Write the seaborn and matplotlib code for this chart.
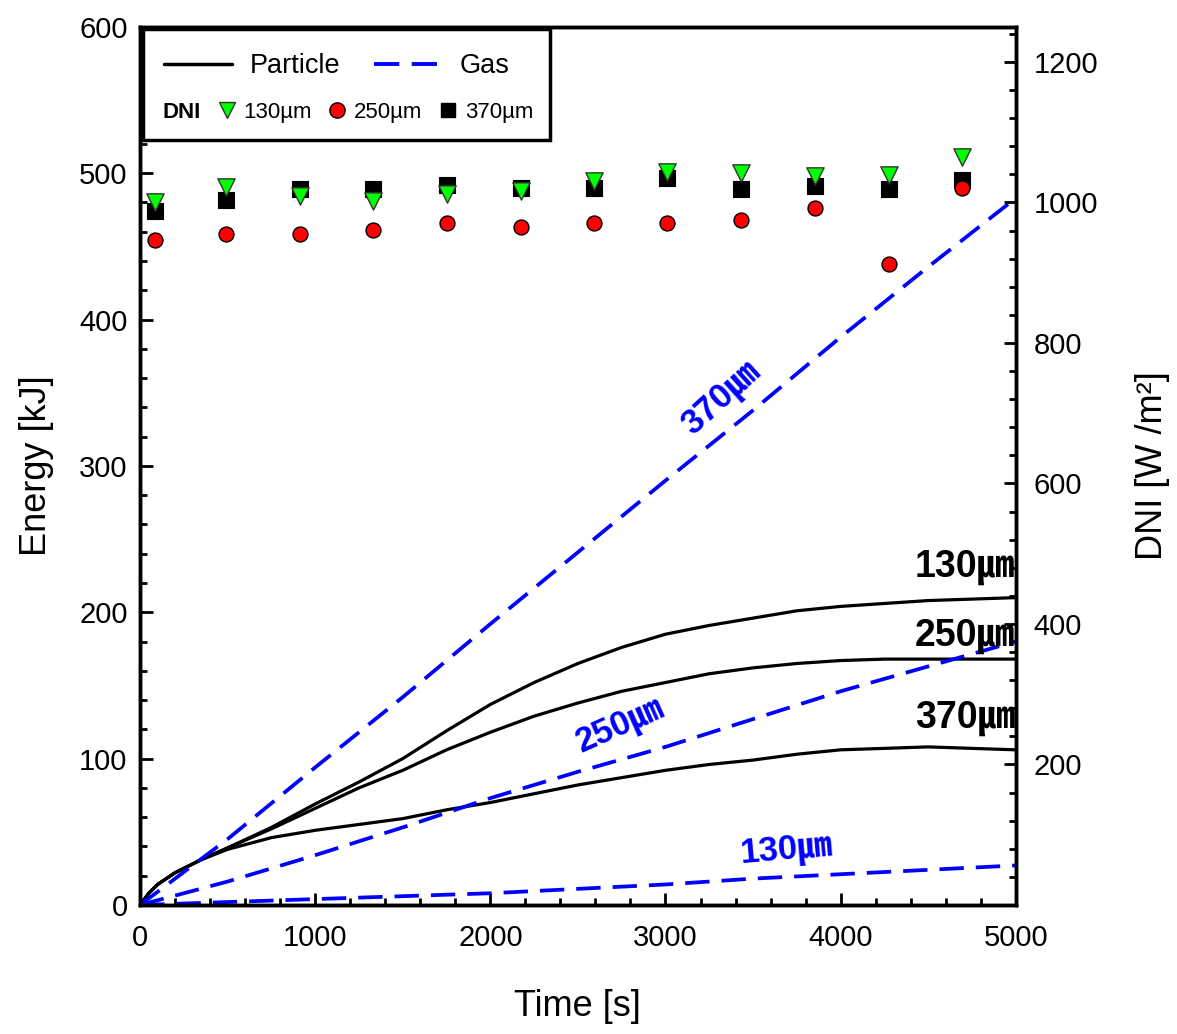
import matplotlib
matplotlib.use("Agg")
import matplotlib.pyplot as plt
from matplotlib.lines import Line2D
from matplotlib.patches import Rectangle
from matplotlib.ticker import MultipleLocator, FixedLocator
import seaborn as sns

sns.set_theme(style="white")
plt.rcParams['font.family'] = ['Liberation Sans', 'DejaVu Sans', 'Noto Sans CJK JP']
plt.rcParams['text.color'] = 'black'
plt.rcParams['axes.labelcolor'] = 'black'
plt.rcParams['xtick.color'] = 'black'
plt.rcParams['ytick.color'] = 'black'

# ---- data ----
time_line = [0, 50, 100, 200, 350, 500, 750, 1000, 1250, 1500, 1750, 2000, 2250, 2500,
             2750, 3000, 3250, 3500, 3750, 4000, 4250, 4500, 4750, 5000]
particle_130 = [0, 8, 14, 22, 31, 39, 53, 69, 84, 100, 119, 137, 152, 165,
                176, 185, 191, 196, 201, 204, 206, 208, 209, 210]
particle_250 = [0, 8, 14, 22, 31, 39, 52, 66, 80, 92, 106, 118, 129, 138,
                146, 152, 158, 162, 165, 167, 168, 168, 168, 168]
particle_370 = [0, 8, 14, 22, 31, 38, 46, 51, 55, 59, 65, 70, 76, 82,
                87, 92, 96, 99, 103, 106, 107, 108, 107, 106]

time_gas = [0, 500, 1000, 1500, 2000, 2500, 3000, 3500, 4000, 4500, 5000]
gas_130 = [0, 2, 4, 6, 8, 11, 14, 18, 21, 24, 27]
gas_250 = [0, 16, 34, 53, 73, 91, 108, 127, 146, 163, 180]
gas_370 = [0, 45, 94, 142, 192, 241, 290, 338, 388, 436, 483]

time_dni = [86, 491, 913, 1330, 1752, 2175, 2591, 3008, 3430, 3853, 4275, 4692]
dni_130 = [1001, 1022, 1009, 1002, 1012, 1016, 1031, 1043, 1042, 1038, 1039, 1065]
dni_250 = [947, 955, 955, 961, 971, 965, 971, 971, 975, 992, 912, 1021]
dni_370 = [988, 1004, 1019, 1019, 1025, 1021, 1021, 1035, 1019, 1023, 1019, 1032]

fig = plt.figure(figsize=(11.77, 10.34), dpi=100)
ax = fig.add_axes([0.119, 0.1248, 0.744, 0.8492])
ax2 = ax.twinx()

blue = '#0000FF'
dash = (6.5, 3.2)
for y in (particle_130, particle_250, particle_370):
    sns.lineplot(x=time_line, y=y, ax=ax, color='black', linewidth=2.3, estimator=None)
for y in (gas_130, gas_250, gas_370):
    sns.lineplot(x=time_gas, y=y, ax=ax, color=blue, linewidth=2.7,
                 estimator=None).lines[-1].set_dashes(dash)

sns.scatterplot(x=time_dni, y=dni_370, ax=ax2, marker='s', s=140, color='black',
                edgecolor='black', linewidth=0.8, zorder=3)
sns.scatterplot(x=time_dni, y=dni_250, ax=ax2, marker='o', s=115, color='#FF0000',
                edgecolor='black', linewidth=1.0, zorder=4)
sns.scatterplot(x=time_dni, y=dni_130, ax=ax2, marker='v', s=155, color='#00FF00',
                edgecolor='#333333', linewidth=1.0, zorder=5)

ax.set_xlim(0, 5000)
ax.set_ylim(0, 600)
ax2.set_ylim(0, 1250)

ax.xaxis.set_major_locator(MultipleLocator(1000))
ax.xaxis.set_minor_locator(MultipleLocator(200))
ax.yaxis.set_major_locator(MultipleLocator(100))
ax.yaxis.set_minor_locator(MultipleLocator(20))
ax2.yaxis.set_major_locator(FixedLocator([200, 400, 600, 800, 1000, 1200]))
ax2.yaxis.set_minor_locator(MultipleLocator(40))

for a in (ax, ax2):
    for sp in a.spines.values():
        sp.set_linewidth(2.5)
        sp.set_color('black')
ax.tick_params(axis='x', which='major', direction='in', length=9, width=2,
               labelsize=21, pad=14, bottom=True, top=False)
ax.tick_params(axis='y', which='major', direction='in', length=9, width=2,
               labelsize=21, pad=9, left=True, right=False)
ax.tick_params(axis='both', which='minor', direction='in', length=5, width=2,
               bottom=True, left=True, top=False, right=False)
ax2.tick_params(axis='y', which='major', direction='in', length=9, width=2,
                labelsize=21, pad=13, right=True)
ax2.tick_params(axis='y', which='minor', direction='in', length=5, width=2, right=True)

ax.set_xlabel('Time [s]', fontsize=26, labelpad=26)
ax.set_ylabel('Energy [kJ]', fontsize=26, labelpad=18)
ax2.set_ylabel('DNI [W /m²]', fontsize=26, labelpad=26)

# annotations
cjk = ['Liberation Sans', 'Noto Sans CJK JP']
ax.text(3320, 346, '370㎛', color=blue, fontsize=25, fontweight='bold', rotation=42,
        ha='center', va='center', family=cjk)
ax.text(2740, 122, '250㎛', color=blue, fontsize=25, fontweight='bold', rotation=24,
        ha='center', va='center', family=cjk)
ax.text(3690, 37, '130㎛', color=blue, fontsize=25, fontweight='bold', rotation=5,
        ha='center', va='center', family=cjk)
for lbl, yy in (('130㎛', 231), ('250㎛', 184), ('370㎛', 128)):
    ax.text(4995, yy, lbl, color='black', fontsize=27, fontweight='bold',
            ha='right', va='center', family=cjk)

# legend
h1 = [Line2D([], [], color='black', linewidth=2.5),
      Line2D([], [], color=blue, linewidth=2.8, dashes=dash)]
leg1 = ax2.legend(h1, ['Particle', 'Gas'], ncol=2, frameon=False, fontsize=19.5,
                  loc='upper left', bbox_to_anchor=(0.0, 0.998), handlelength=2.5,
                  columnspacing=1.25, handletextpad=0.65)
ax2.add_artist(leg1)
h2 = [Line2D([], [], linestyle='none', marker=None),
      Line2D([], [], linestyle='none', marker='v', markersize=12, markerfacecolor='#00FF00',
             markeredgecolor='#333333'),
      Line2D([], [], linestyle='none', marker='o', markersize=11, markerfacecolor='#FF0000',
             markeredgecolor='black'),
      Line2D([], [], linestyle='none', marker='s', markersize=10, markerfacecolor='black',
             markeredgecolor='black')]
leg2 = ax2.legend(h2, ['DNI', '130µm', '250µm', '370µm'], ncol=4, frameon=False,
                  fontsize=16, loc='upper left', bbox_to_anchor=(-0.026, 0.937),
                  handlelength=0.8, handletextpad=0.35, columnspacing=0.75)
leg2.get_texts()[0].set_fontweight('bold')
ax2.add_artist(Rectangle((0.003, 0.871), 0.465, 0.127, transform=ax2.transAxes,
                         fill=True, facecolor='white', edgecolor='black',
                         linewidth=2.5, zorder=2.5))

fig.savefig('out.png', dpi=100)
